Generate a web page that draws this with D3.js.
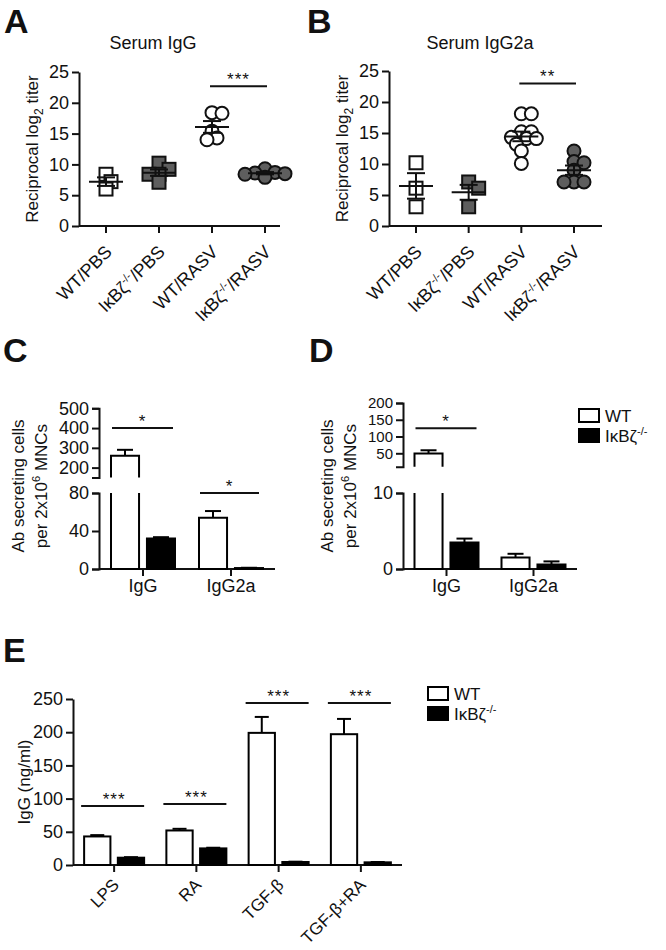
<!DOCTYPE html>
<html>
<head>
<meta charset="utf-8">
<script src="https://cdn.jsdelivr.net/npm/d3@7"></script>
<style>
  body { margin: 0; background: #fff; }
  text { font-family: "Liberation Sans", Arial, sans-serif; fill: #111; }
</style>
</head>
<body>
<script>
// ---------- data ----------
const scatterGroups = ["WT/PBS", "KO/PBS", "WT/RASV", "KO/RASV"];
const serumIgG = [
    [8.4, 7.2, 6.0],
    [10.2, 9.2, 8.4, 8.4, 7.1],
    [18.4, 18.3, 15.4, 14.3, 14.0],
    [9.3, 8.7, 8.6, 8.5, 8.4, 7.9]
];
const serumIgG2a = [
    [10.2, 6.1, 3.1],
    [7.1, 6.1, 3.1],
    [18.1, 18.1, 15.2, 15.2, 14.3, 14.1, 14.1, 13.2, 12.1, 10.1],
    [12.1, 10.4, 10.2, 9.0, 7.1, 7.1, 7.1]
];
const titerTicks = [0, 5, 10, 15, 20, 25];
const sigA = 22.7, sigB = 23;

const ascCats = ["IgG", "IgG2a"];
// panel C
const cWt = [260, 54], cWtErr = [30, 7];
const cKo = [32, 1], cKoErr = [1.5, 0.3];
const cLowTicks = [0, 40, 80], cHighTicks = [200, 300, 400, 500];
// panel D
const dWt = [49, 1.5], dWtErr = [10, 0.5];
const dKo = [3.5, 0.6], dKoErr = [0.5, 0.4];
const dLowTicks = [0, 10], dHighTicks = [50, 100, 150, 200];

// panel E
const stimCats = ["LPS", "RA", "TGF-β", "TGF-β+RA"];
const eWt = [43, 52, 199, 197], eWtErr = [2, 2.5, 24, 23];
const eKo = [11, 25, 4.5, 4], eKoErr = [0.8, 1, 0.5, 0.5];
const eSig = [89, 92, 244, 244];
const eTicks = [0, 50, 100, 150, 200, 250];

const KO_GRAY = "#5e5e5e";
const SW = 2;
const FS = 18;

const svg = d3.select("body").append("svg")
    .attr("width", 666)
    .attr("height", 950);

// IκBζ-/- label with a superscript, optional suffix
function koText(sel, suffix, supSize) {
    sel.append("tspan").text("IκBζ");
    sel.append("tspan").attr("dy", -7).attr("font-size", supSize).text("-/-");
    if (suffix) sel.append("tspan").attr("dy", 7).text(suffix);
}

function styleAxis(g, size) {
    g.selectAll("path, line").attr("stroke", "#111").attr("stroke-width", SW);
    g.selectAll("text").attr("font-size", size).attr("fill", "#111");
}

function letter(txt, x, y) {
    svg.append("text").attr("x", x).attr("y", y)
        .attr("font-size", 34).attr("font-weight", "bold").text(txt);
}

function stars(txt, x, y) {
    svg.append("text").attr("x", x).attr("y", y - 1)
        .attr("text-anchor", "middle").attr("font-size", 17)
        .attr("letter-spacing", 1).text(txt);
}

// ---------- scatter panels (A, B) ----------
function scatterPanel(cfg) {
    const y = d3.scaleLinear().domain([0, 25]).range([cfg.yBottom, cfg.yTop]);
    const x = d3.scalePoint().domain(scatterGroups).range([cfg.x1, cfg.x4]);

    svg.append("g")
        .attr("transform", `translate(${cfg.axisX},0)`)
        .call(d3.axisLeft(y).tickValues(titerTicks).tickSize(7).tickSizeOuter(0).tickPadding(3))
        .call(g => styleAxis(g, FS));

    svg.append("line")
        .attr("x1", cfg.axisX).attr("x2", cfg.axisEnd)
        .attr("y1", cfg.yBottom).attr("y2", cfg.yBottom)
        .attr("stroke", "#111").attr("stroke-width", SW);

    svg.selectAll(null).data(scatterGroups).enter().append("line")
        .attr("x1", d => x(d)).attr("x2", d => x(d))
        .attr("y1", cfg.yBottom).attr("y2", cfg.yBottom + 7)
        .attr("stroke", "#111").attr("stroke-width", SW);

    // rotated category labels
    scatterGroups.forEach(grp => {
        const t = svg.append("text")
            .attr("text-anchor", "end")
            .attr("font-size", FS)
            .attr("transform", `translate(${x(grp) + 7},${cfg.yBottom + 27}) rotate(-45)`);
        if (grp.startsWith("KO")) koText(t, grp.slice(2), 11);
        else t.text(grp);
    });

    // points, laid out as a small beeswarm
    cfg.values.forEach((vals, i) => {
        const grp = scatterGroups[i];
        const ko = grp.startsWith("KO");
        const square = i < 2;
        const placed = [];
        vals.slice().sort((a, b) => b - a).forEach(v => {
            const py = y(v);
            let off = 0;
            for (let k = 0; k < 20; k++) {
                const cand = (k % 2 ? 1 : -1) * Math.ceil(k / 2) * 5;
                if (placed.every(p => Math.hypot(p[0] - cand, p[1] - py) >= 8)) { off = cand; break; }
            }
            placed.push([off, py]);
        });
        placed.forEach(([off, py]) => {
            const cx = x(grp) + off;
            if (square) {
                svg.append("rect")
                    .attr("x", cx - 6.5).attr("y", py - 6.5).attr("width", 13).attr("height", 13)
                    .attr("fill", ko ? KO_GRAY : "#fff").attr("stroke", "#111").attr("stroke-width", SW);
            } else {
                svg.append("circle")
                    .attr("cx", cx).attr("cy", py).attr("r", 6.5)
                    .attr("fill", ko ? KO_GRAY : "#fff").attr("stroke", "#111").attr("stroke-width", SW);
            }
        });
        // mean and SEM
        const m = d3.mean(vals);
        const sem = d3.deviation(vals) / Math.sqrt(vals.length);
        const cx = x(grp);
        const ln = (x1, x2, y1, y2) => svg.append("line")
            .attr("x1", x1).attr("x2", x2).attr("y1", y1).attr("y2", y2)
            .attr("stroke", "#111").attr("stroke-width", SW);
        ln(cx - 17, cx + 17, y(m), y(m));
        ln(cx, cx, y(m - sem), y(m + sem));
        ln(cx - 9, cx + 9, y(m - sem), y(m - sem));
        ln(cx - 9, cx + 9, y(m + sem), y(m + sem));
    });

    // significance
    const sy = y(cfg.sig);
    svg.append("line")
        .attr("x1", x(scatterGroups[2]) - 2).attr("x2", x(scatterGroups[3]) + 2)
        .attr("y1", sy).attr("y2", sy)
        .attr("stroke", "#111").attr("stroke-width", SW);
    stars(cfg.stars, (x(scatterGroups[2]) + x(scatterGroups[3])) / 2, sy);

    svg.append("text").attr("x", cfg.titleX).attr("y", 49)
        .attr("text-anchor", "middle").attr("font-size", FS).text(cfg.title);

    const yl = svg.append("text")
        .attr("text-anchor", "middle").attr("font-size", 17)
        .attr("transform", `translate(${cfg.labelX},${(cfg.yTop + cfg.yBottom) / 2}) rotate(-90)`);
    yl.append("tspan").text("Reciprocal log");
    yl.append("tspan").attr("dy", 5).attr("font-size", 12).text("2");
    yl.append("tspan").attr("dy", -5).text(" titer");
}

scatterPanel({
    values: serumIgG, title: "Serum IgG", titleX: 153, stars: "***", sig: sigA,
    axisX: 79, axisEnd: 280, x1: 106, x4: 265, yTop: 72, yBottom: 226, labelX: 38
});
scatterPanel({
    values: serumIgG2a, title: "Serum IgG2a", titleX: 480, stars: "**", sig: sigB,
    axisX: 389, axisEnd: 602, x1: 416, x4: 574, yTop: 71, yBottom: 226, labelX: 348
});

// ---------- grouped bars helpers ----------
function barPath(x0, w, yBase, yTop, openTop, openBottom) {
    if (openTop) return `M${x0},${yTop}V${yBase}H${x0 + w}V${yTop}`;
    if (openBottom) return `M${x0},${yBase}V${yTop}H${x0 + w}V${yBase}`;
    return `M${x0},${yBase}V${yTop}H${x0 + w}V${yBase}Z`;
}

function ascLabel(x, cy) {
    svg.append("text").attr("text-anchor", "middle").attr("font-size", 17)
        .attr("transform", `translate(${x[0]},${cy}) rotate(-90)`).text("Ab secreting cells");
    const t2 = svg.append("text").attr("text-anchor", "middle").attr("font-size", 17)
        .attr("transform", `translate(${x[1]},${cy}) rotate(-90)`);
    t2.append("tspan").text("per 2x10");
    t2.append("tspan").attr("dy", -7).attr("font-size", 11).text("6");
    t2.append("tspan").attr("dy", 7).text(" MNCs");
}

// ---------- broken-axis bar panels (C, D) ----------
function brokenPanel(cfg) {
    const low = d3.scaleLinear().domain(cfg.lowDomain).range([569, 493]);
    const high = d3.scaleLinear().domain(cfg.highDomain).range(cfg.highRange);
    const lowMax = cfg.lowDomain[1], highMin = cfg.highDomain[0];
    const yMap = v => v <= lowMax ? low(v) : (v >= highMin ? high(v) : low(lowMax));

    const x = d3.scaleBand().domain(ascCats).range([cfg.axisX, cfg.axisEnd]);
    const sub = d3.scaleBand().domain(["wt", "ko"]).range([-32, 32]).paddingInner(0.22);

    svg.append("g").attr("transform", `translate(${cfg.axisX},0)`)
        .call(d3.axisLeft(low).tickValues(cfg.lowTicks).tickSize(7).tickSizeOuter(7).tickPadding(3))
        .call(g => styleAxis(g, FS));
    svg.append("g").attr("transform", `translate(${cfg.axisX},0)`)
        .call(d3.axisLeft(high).tickValues(cfg.highTicks).tickSize(7).tickSizeOuter(7).tickPadding(3))
        .call(g => styleAxis(g, cfg.highFont));

    svg.append("line").attr("x1", cfg.axisX).attr("x2", cfg.axisEnd)
        .attr("y1", 569).attr("y2", 569).attr("stroke", "#111").attr("stroke-width", SW);

    ascCats.forEach((c, i) => {
        const cx = x(c) + x.bandwidth() / 2;
        svg.append("line").attr("x1", cx).attr("x2", cx).attr("y1", 569).attr("y2", 576)
            .attr("stroke", "#111").attr("stroke-width", SW);
        svg.append("text").attr("x", cx).attr("y", 592).attr("text-anchor", "middle")
            .attr("font-size", FS).text(c);

        [["wt", cfg.wt[i], cfg.wtErr[i], "#fff"], ["ko", cfg.ko[i], cfg.koErr[i], "#000"]]
            .forEach(([k, v, e, fill]) => {
                const bx = cx + sub(k);
                const w = sub.bandwidth();
                const style = p => p.attr("fill", fill).attr("stroke", "#000").attr("stroke-width", SW);
                svg.append("line").attr("x1", bx + w / 2).attr("x2", bx + w / 2)
                    .attr("y1", yMap(v)).attr("y2", yMap(v + e)).attr("stroke", "#000").attr("stroke-width", SW);
                svg.append("line").attr("x1", bx + w / 2 - 8).attr("x2", bx + w / 2 + 8)
                    .attr("y1", yMap(v + e)).attr("y2", yMap(v + e)).attr("stroke", "#000").attr("stroke-width", SW);
                if (v > lowMax) {
                    svg.append("path").attr("d", barPath(bx, w, low(0), low(lowMax), true, false)).call(style);
                    svg.append("path").attr("d", barPath(bx, w, high(highMin), high(v), false, true)).call(style);
                } else {
                    svg.append("path").attr("d", barPath(bx, w, low(0), low(v))).call(style);
                }
            });
    });

    cfg.sigs.forEach(s => {
        const cx = x(ascCats[s.cat]) + x.bandwidth() / 2;
        const sy = yMap(s.v);
        svg.append("line").attr("x1", cx - 31).attr("x2", cx + s.right)
            .attr("y1", sy).attr("y2", sy).attr("stroke", "#111").attr("stroke-width", SW);
        stars("*", cx + (s.right - 31) / 2, sy);
    });

    ascLabel(cfg.labelX, 486);
}

brokenPanel({
    axisX: 99, axisEnd: 275,
    lowDomain: [0, 80], highDomain: [150, 500], highRange: [477.5, 408.3],
    lowTicks: cLowTicks, highTicks: cHighTicks, highFont: FS,
    wt: cWt, wtErr: cWtErr, ko: cKo, koErr: cKoErr,
    sigs: [{ cat: 0, v: 400, right: 30 }, { cat: 1, v: 80, right: 28 }],
    labelX: [24, 47]
});
brokenPanel({
    axisX: 403, axisEnd: 577,
    lowDomain: [0, 10], highDomain: [10, 200], highRange: [466.7, 403],
    lowTicks: dLowTicks, highTicks: dHighTicks, highFont: 15,
    wt: dWt, wtErr: dWtErr, ko: dKo, koErr: dKoErr,
    sigs: [{ cat: 0, v: 125, right: 30 }],
    labelX: [333, 356]
});

// ---------- panel E ----------
const yE = d3.scaleLinear().domain([0, 250]).range([865, 699]);
const xE = d3.scaleBand().domain(stimCats).range([73, 402]);
const subE = d3.scaleBand().domain(["wt", "ko"]).range([-30, 30]).paddingInner(0.22);

svg.append("g").attr("transform", "translate(73,0)")
    .call(d3.axisLeft(yE).tickValues(eTicks).tickSize(7).tickSizeOuter(0).tickPadding(3))
    .call(g => styleAxis(g, FS));
svg.append("line").attr("x1", 73).attr("x2", 402).attr("y1", 865).attr("y2", 865)
    .attr("stroke", "#111").attr("stroke-width", SW);

stimCats.forEach((c, i) => {
    const cx = xE(c) + xE.bandwidth() / 2;
    svg.append("line").attr("x1", cx).attr("x2", cx).attr("y1", 865).attr("y2", 872)
        .attr("stroke", "#111").attr("stroke-width", SW);
    svg.append("text").attr("text-anchor", "end").attr("font-size", 17)
        .attr("transform", `translate(${cx + 6},${865 + 21}) rotate(-45)`).text(c);

    [["wt", eWt[i], eWtErr[i], "#fff"], ["ko", eKo[i], eKoErr[i], "#000"]].forEach(([k, v, e, fill]) => {
        const bx = cx + subE(k);
        const w = subE.bandwidth();
        svg.append("line").attr("x1", bx + w / 2).attr("x2", bx + w / 2)
            .attr("y1", yE(v)).attr("y2", yE(v + e)).attr("stroke", "#000").attr("stroke-width", SW);
        svg.append("line").attr("x1", bx + w / 2 - 7).attr("x2", bx + w / 2 + 7)
            .attr("y1", yE(v + e)).attr("y2", yE(v + e)).attr("stroke", "#000").attr("stroke-width", SW);
        svg.append("rect").attr("x", bx).attr("y", yE(v)).attr("width", w).attr("height", yE(0) - yE(v))
            .attr("fill", fill).attr("stroke", "#000").attr("stroke-width", SW);
    });

    const sy = yE(eSig[i]);
    svg.append("line").attr("x1", cx - 33).attr("x2", cx + 30).attr("y1", sy).attr("y2", sy)
        .attr("stroke", "#111").attr("stroke-width", SW);
    stars("***", cx, sy);
});

svg.append("text").attr("text-anchor", "middle").attr("font-size", 17)
    .attr("transform", "translate(30,782) rotate(-90)").text("IgG (ng/ml)");

// ---------- legends ----------
function legend(x, y) {
    svg.append("rect").attr("x", x).attr("y", y).attr("width", 20).attr("height", 13)
        .attr("fill", "#fff").attr("stroke", "#000").attr("stroke-width", SW);
    svg.append("rect").attr("x", x).attr("y", y + 20).attr("width", 20).attr("height", 13)
        .attr("fill", "#000").attr("stroke", "#000").attr("stroke-width", SW);
    svg.append("text").attr("x", x + 26).attr("y", y + 13).attr("font-size", 17).text("WT");
    const t = svg.append("text").attr("x", x + 26).attr("y", y + 33).attr("font-size", 17);
    koText(t, "", 11);
}
legend(579, 409);
legend(428, 687);

// ---------- panel letters ----------
letter("A", 4, 33);
letter("B", 307, 33);
letter("C", 3, 362);
letter("D", 309, 362);
letter("E", 3, 662);
</script>
</body>
</html>
